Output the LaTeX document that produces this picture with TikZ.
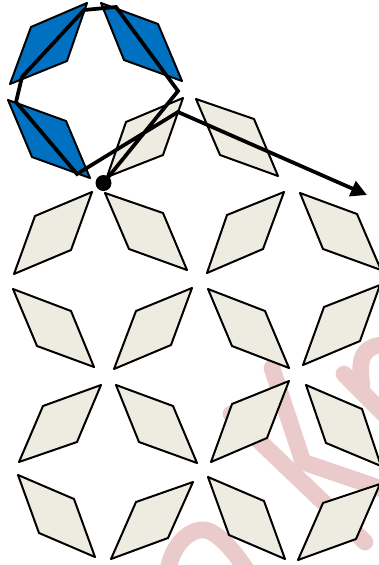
\documentclass[tikz,border=0pt]{standalone}
\usepackage{tikz}
\usetikzlibrary{arrows.meta}
\definecolor{beige}{HTML}{EEECE1}
\definecolor{bluefill}{HTML}{0070C0}
\definecolor{wmark}{HTML}{EACACA}
\tikzset{
  rh/.style={draw=black,line width=1.5pt,line join=round,fill=beige},
  rhblue/.style={rh,fill=bluefill},
  wm/.style={draw=wmark,line width=12.5pt,line cap=round,line join=round},
  route/.style={draw=black,line width=2.8pt,line join=miter}
}
\begin{document}
\begin{tikzpicture}[x=0.75pt,y=-0.75pt]
\useasboundingbox (0,0) rectangle (379,565);
\fill[white] (0,0) rectangle (379,565);
\begin{scope}
\clip (0,0) rectangle (379,565);
% watermark
\draw[wm] (231,414) -- (365,542);
\draw[wm] (272,368) -- (303,462) -- (385,490);
\draw[wm] (344,374) -- (385,415);
\draw[wm] (362,385) .. controls (358,360) and (362,345) .. (385,345);
\draw[wm] (168,570) .. controls (172,545) and (190,528) .. (205,530) .. controls (218,532) and (235,552) .. (248,572);
% rhombi
\path[rh] (183,98) -- (126,122) -- (107,177) -- (163,155) -- cycle;
\path[rh] (196,99) -- (254,119) -- (278,176) -- (220,155) -- cycle;
\path[rh] (92,192) -- (35,216) -- (14,274) -- (71,250) -- cycle;
\path[rh] (105,193) -- (129,249) -- (187,270) -- (163,213) -- cycle;
\path[rh] (284,192) -- (227,215) -- (207,273) -- (263,249) -- cycle;
\path[rh] (300,193) -- (323,249) -- (381,270) -- (357,214) -- cycle;
\path[rh] (13,289) -- (37,346) -- (94,367) -- (71,311) -- cycle;
\path[rh] (192,288) -- (136,311) -- (114,369) -- (171,345) -- cycle;
\path[rh] (208,289) -- (232,346) -- (289,368) -- (265,311) -- cycle;
\path[rh] (380,285) -- (324,307) -- (303,365) -- (360,341) -- cycle;
\path[rh] (101,385) -- (43,406) -- (19,462) -- (77,442) -- cycle;
\path[rh] (116,385) -- (139,442) -- (197,463) -- (173,406) -- cycle;
\path[rh] (289,381) -- (232,404) -- (211,462) -- (267,438) -- cycle;
\path[rh] (306,385) -- (326,443) -- (381,466) -- (362,409) -- cycle;
\path[rh] (18,475) -- (39,533) -- (95,557) -- (74,499) -- cycle;
\path[rh] (193,482) -- (136,502) -- (111,559) -- (168,538) -- cycle;
\path[rh] (208,477) -- (229,535) -- (285,559) -- (264,501) -- cycle;
\path[rh] (380,484) -- (323,503) -- (298,560) -- (356,539) -- cycle;
% blue rhombi
\path[rhblue] (87,3) -- (31,27) -- (10,84) -- (67,61) -- cycle;
\path[rhblue] (101,3) -- (124,60) -- (182,81) -- (158,24) -- cycle;
\path[rhblue] (8,100) -- (32,157) -- (90,178) -- (66,121) -- cycle;
\end{scope}
% route
\node[circle,fill=black,minimum size=12pt,inner sep=0pt] (dot) at (103.5,183) {};
\coordinate (p1) at (178,91);
\coordinate (p2) at (116,7);
\coordinate (p3) at (84,10);
\coordinate (p4) at (22,77);
\coordinate (p5) at (16,102);
\coordinate (p6) at (77,174);
\coordinate (p7) at (178,112);
\coordinate (tip) at (367,195);
\draw[route,-{Triangle[length=12pt,width=12pt]}] (dot.center) -- (p1) -- (p2) -- (p3) -- (p4) -- (p5) -- (p6) -- (p7) -- (tip);
\end{tikzpicture}
\end{document}
